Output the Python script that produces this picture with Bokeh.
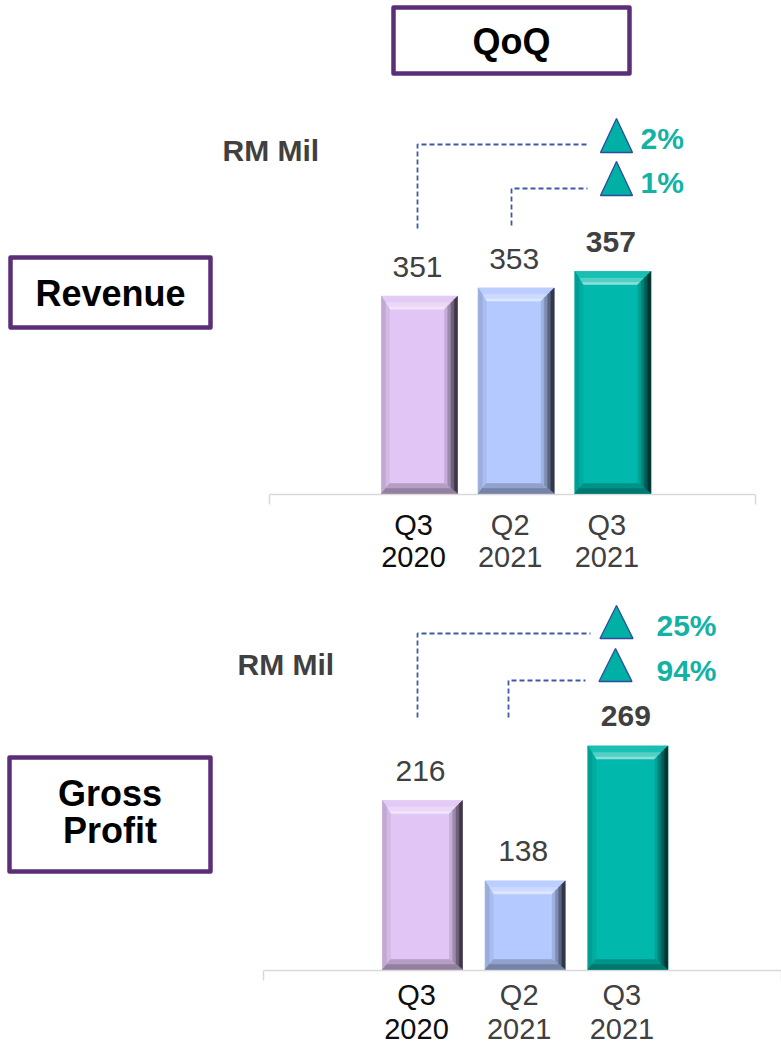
from bokeh.plotting import figure
from bokeh.models import Range1d, ColumnDataSource
from bokeh.core.properties import value
from bokeh.embed import file_html
from bokeh.resources import INLINE

# ---------------- data ----------------
periods = ["Q3\n2020", "Q2\n2021", "Q3\n2021"]
revenue = [351, 353, 357]
gross_profit = [216, 138, 269]
revenue_qoq = ["2%", "1%"]          # Q3 2021 vs Q3 2020, vs Q2 2021
gross_profit_qoq = ["25%", "94%"]
unit_label = "RM Mil"
header = "QoQ"
section_titles = ["Revenue", "Gross\nProfit"]

# ---------------- styles / layout ----------------
FONT = value("Liberation Sans")
PURPLE = "#5b2f78"
TEAL_TXT = "#12b2a6"
TRI_FILL = "#00b0a4"
TRI_LINE = "#2e4a9e"
DASH = "#3f58a8"
GREY_TXT = "#404040"
bar_colors = ["#e1c5f5", "#b4c9ff", "#00b8ab"]
label_colors = ["#0d0d0d", GREY_TXT, GREY_TXT]

W, H = 781, 1044
X0, Y0 = 0, 0
MID = 0.35  # cap-centre above baseline, in em

p = figure(width=W, height=H, output_backend="svg", toolbar_location=None,
           x_range=Range1d(X0, X0 + W), y_range=Range1d(Y0 + H, Y0),
           x_axis_location=None, y_axis_location=None, min_border=0)
p.outline_line_color = None
p.grid.visible = False
p.background_fill_color = "white"


def mix(hex_color, amt):
    h = hex_color.lstrip("#")
    r, g, b = (int(h[i:i + 2], 16) for i in (0, 2, 4))
    tgt = 255 if amt > 0 else 0
    a = abs(amt)
    r, g, b = (round(c + (tgt - c) * a) for c in (r, g, b))
    return "#%02x%02x%02x" % (r, g, b)


def txt(x, y, text, size, bold=False, align="center", color="black", **kw):
    """y is the alphabetic baseline in screen units; drawn with middle baseline."""
    yo = kw.pop("y_offset", 0)
    p.text(x=[x], y=[y], text=[text], text_font=FONT, text_font_size=f"{size}px",
           text_font_style="bold" if bold else "normal", text_align=align,
           text_baseline="middle", text_color=color, y_offset=yo - MID * size, **kw)


panels = [
    dict(name="rev", values=revenue, qoq=revenue_qoq, cx0=419, dx=96.7, base_y=493,
         floor=303, ppu=4.11, bar_px=76, bold_last=True,
         axis_line=(269, 755, 494), lab_y=(535, 567), lab_dx=-6,
         conn_x=[417, 511], conn_h=[144, 188], conn_b=[228, 225], conn_end=[588, 587],
         tri_cx=[616, 616], tri_top=[118, 161], tri_h=34, tri_w=32,
         pct_x=640, pct_y=[148, 192], unit_xy=(222, 160),
         box=(10, 210, 257, 327), title_y=[306]),
    dict(name="gp", values=gross_profit, qoq=gross_profit_qoq, cx0=422, dx=102.7, base_y=969,
         floor=52, ppu=1.03, bar_px=80, bold_last=True,
         axis_line=(263, 781, 970), lab_y=(1005, 1039), lab_dx=-6,
         conn_x=[417, 508], conn_h=[633, 680], conn_b=[717, 717], conn_end=[590, 585],
         tri_cx=[616, 615], tri_top=[605, 648], tri_h=33, tri_w=33,
         pct_x=656, pct_y=[635, 680], unit_xy=(237, 674),
         box=(9, 210, 757, 871), title_y=[806, 843]),
]

# header box
p.quad(left=393, right=629, top=7, bottom=73, fill_color="white",
       line_color=PURPLE, line_width=4.5, line_join="round")
txt(511, 54, header, 36, bold=True)

side_shades = {
    "top": [(0.0, 0.22, 0.55), (0.22, 0.55, 0.32), (0.55, 1.0, 0.10)],
    "left": [(0.0, 0.5, -0.06), (0.5, 1.0, -0.14)],
    "right": [(0.0, 0.25, -0.12), (0.25, 0.5, -0.3), (0.5, 0.75, -0.5), (0.75, 1.0, -0.72)],
    "bottom": [(0.0, 0.5, -0.2), (0.5, 1.0, -0.35)],
}
BEV = dict(top=13, right=13, left=8, bottom=10)

for k, pn in enumerate(panels):
    xn, yn = pn["name"] + "_x", pn["name"] + "_y"
    p.extra_x_ranges[xn] = Range1d((X0 - pn["cx0"]) / pn["dx"], (X0 + W - pn["cx0"]) / pn["dx"])
    p.extra_y_ranges[yn] = Range1d(pn["floor"] + (pn["base_y"] - (Y0 + H)) / pn["ppu"],
                                   pn["floor"] + (pn["base_y"] - Y0) / pn["ppu"])
    idx = list(range(len(periods)))
    hw = pn["bar_px"] / 2 / pn["dx"]
    fl = pn["floor"]

    # axis baseline
    x1, x2, yb = pn["axis_line"]
    p.line([x1, x2], [yb, yb], line_color="#d9d9d9", line_width=1.5)
    p.segment(x0=[x1, x2], y0=[yb, yb], x1=[x1, x2], y1=[yb + 10, yb + 10],
              line_color="#d9d9d9", line_width=1.5)

    # main bar bodies
    src = ColumnDataSource(dict(x=idx, top=pn["values"], bottom=[fl] * 3, color=bar_colors))
    p.vbar(x="x", top="top", bottom="bottom", width=2 * hw, fill_color="color",
           line_color="color", line_width=0.5, source=src,
           x_range_name=xn, y_range_name=yn)

    # bevel strips
    xs, ys, cs = [], [], []
    bl, br = BEV["left"] / pn["dx"], BEV["right"] / pn["dx"]
    bt, bb = BEV["top"] / pn["ppu"], BEV["bottom"] / pn["ppu"]
    for i, v in zip(idx, pn["values"]):
        l, r, b, t = i - hw, i + hw, fl, v
        L = lambda f: l + bl * (1 - f)
        R = lambda f: r - br * (1 - f)
        B = lambda f: b + bb * (1 - f)
        T = lambda f: t - bt * (1 - f)
        for side, strips in side_shades.items():
            for f0, f1, amt in strips:
                if side == "top":
                    px_, py_ = [L(f1), R(f1), R(f0), L(f0)], [T(f1), T(f1), T(f0), T(f0)]
                elif side == "bottom":
                    px_, py_ = [L(f1), R(f1), R(f0), L(f0)], [B(f1), B(f1), B(f0), B(f0)]
                elif side == "left":
                    px_, py_ = [L(f1), L(f0), L(f0), L(f1)], [B(f1), B(f0), T(f0), T(f1)]
                else:
                    px_, py_ = [R(f1), R(f0), R(f0), R(f1)], [B(f1), B(f0), T(f0), T(f1)]
                xs.append(px_)
                ys.append(py_)
                cs.append(mix(bar_colors[i], amt))
    p.patches(xs="xs", ys="ys", fill_color="c", line_color="c", line_width=0.6,
              source=ColumnDataSource(dict(xs=xs, ys=ys, c=cs)),
              x_range_name=xn, y_range_name=yn)

    # value labels
    for i, v in zip(idx, pn["values"]):
        bold = pn["bold_last"] and i == len(idx) - 1
        txt(i, v, str(v), 30, bold=bold, color=GREY_TXT, y_offset=-19, x_offset=-2,
            x_range_name=xn, y_range_name=yn)

    # category labels (two lines)
    for i, lab in zip(idx, periods):
        line1, line2 = lab.split("\n")
        for t_, yy in ((line1, pn["lab_y"][0]), (line2, pn["lab_y"][1])):
            txt(i, yy, t_, 29, color=label_colors[i], x_offset=pn["lab_dx"], x_range_name=xn)

    # dashed connectors, triangles, percentages
    for j, pct in enumerate(pn["qoq"]):
        cx, hy, by, ex = pn["conn_x"][j], pn["conn_h"][j], pn["conn_b"][j], pn["conn_end"][j]
        p.line([cx, cx, ex], [by, hy, hy], line_color=DASH, line_width=1.8, line_dash="5 3")
        tc, tt = pn["tri_cx"][j], pn["tri_top"][j]
        hw_t = pn["tri_w"] / 2
        p.patch([tc - hw_t, tc, tc + hw_t], [tt + pn["tri_h"], tt, tt + pn["tri_h"]],
                fill_color=TRI_FILL, line_color=TRI_LINE, line_width=1.3)
        txt(pn["pct_x"], pn["pct_y"][j], pct, 30, bold=True, align="left", color=TEAL_TXT)

    # unit label
    ux, uy = pn["unit_xy"]
    txt(ux, uy, unit_label, 30, bold=True, align="left", color=GREY_TXT)

    # section title box
    bx0, bx1, by0, by1 = pn["box"]
    p.quad(left=bx0, right=bx1, top=by0, bottom=by1, fill_color="white",
           line_color=PURPLE, line_width=4.5, line_join="round")
    for t_, yy in zip(section_titles[k].split("\n"), pn["title_y"]):
        txt((bx0 + bx1) / 2, yy, t_, 36, bold=True)

open("out.html", "w").write(file_html(p, INLINE))
